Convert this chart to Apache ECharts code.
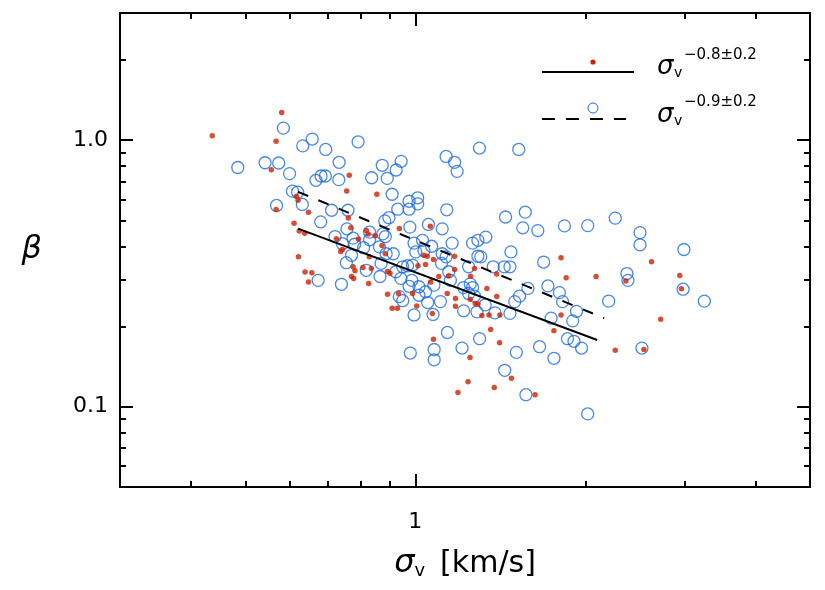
<!DOCTYPE html>
<html>
<head>
<meta charset="utf-8">
<script src="https://cdn.jsdelivr.net/npm/echarts@6/dist/echarts.min.js"></script>
<style>
html, body { margin: 0; padding: 0; background: #fff; }
#chart { width: 825px; height: 590px; }
</style>
</head>
<body>
<div id="chart"></div>
<script>
// 散点数据 (sigma_v, beta)
var redPoints = [
    [0.58, 1.27], [0.437, 1.04], [0.567, 0.99], [0.556, 0.775], [0.616, 0.616], [0.62, 0.595],
    [0.567, 0.55], [0.764, 0.738], [0.756, 0.645], [0.855, 0.627], [0.647, 0.537], [0.61, 0.488],
    [0.623, 0.456], [0.637, 0.448], [0.621, 0.365], [0.638, 0.32],
    [0.761, 0.511], [0.769, 0.469], [0.819, 0.458], [0.825, 0.445], [0.849, 0.438], [0.937, 0.466],
    [1.063, 0.475], [0.725, 0.427], [0.793, 0.426], [0.873, 0.403], [0.743, 0.389], [0.738, 0.382],
    [0.885, 0.375], [0.829, 0.365], [1.036, 0.37], [1.05, 0.367], [1.077, 0.357], [1.043, 0.342],
    [1.011, 0.338], [0.776, 0.335], [0.782, 0.324], [0.808, 0.333], [0.836, 0.33], [0.893, 0.322],
    [0.902, 0.317], [0.771, 0.308], [0.778, 0.303], [0.656, 0.318], [0.647, 0.294], [0.827, 0.29],
    [1.065, 0.294], [0.893, 0.264], [0.934, 0.266], [0.989, 0.266], [1.006, 0.239], [0.91, 0.234],
    [0.93, 0.234], [1.072, 0.224],
    [1.174, 0.367], [1.812, 0.362], [1.273, 0.33], [1.394, 0.315], [1.101, 0.308], [1.146, 0.31],
    [1.174, 0.327], [1.253, 0.309], [1.339, 0.278], [1.139, 0.266], [1.394, 0.259], [1.178, 0.255],
    [1.251, 0.253], [1.277, 0.244], [1.291, 0.243], [1.178, 0.238], [1.351, 0.221], [1.412, 0.221],
    [1.812, 0.221], [1.312, 0.22],
    [1.077, 0.179], [1.19, 0.113], [1.24, 0.124], [1.38, 0.118], [1.63, 0.111], [1.25, 0.153],
    [1.41, 0.174], [1.36, 0.195], [1.48, 0.128], [1.76, 0.193], [2.26, 0.163], [2.54, 0.164],
    [2.72, 0.213], [2.96, 0.277], [2.94, 0.311], [2.09, 0.308], [1.85, 0.305], [2.62, 0.35], [2.36, 0.296]
];

var bluePoints = [
    [0.584, 1.11], [0.632, 0.952], [0.485, 0.79], [0.542, 0.823], [0.573, 0.821], [0.599, 0.749],
    [0.606, 0.644], [0.619, 0.638], [0.631, 0.574], [0.568, 0.569],
    [0.657, 1.01], [0.694, 0.923], [0.792, 0.986], [0.733, 0.826], [0.874, 0.805], [0.944, 0.833],
    [0.925, 0.773], [0.681, 0.734], [0.693, 0.734], [0.667, 0.707], [0.732, 0.711], [0.837, 0.723],
    [0.892, 0.719], [0.91, 0.627], [0.975, 0.59], [1.01, 0.608], [1.01, 0.577], [0.931, 0.551],
    [0.975, 0.551], [0.711, 0.546], [0.76, 0.546],
    [1.299, 0.934], [1.525, 0.923], [1.134, 0.869], [1.174, 0.826], [1.186, 0.764], [1.137, 0.548],
    [1.445, 0.515], [1.566, 0.537],
    [0.68, 0.494], [0.883, 0.498], [0.898, 0.512], [0.978, 0.472], [1.055, 0.483], [0.757, 0.465],
    [0.83, 0.452], [0.876, 0.445], [0.885, 0.435], [0.721, 0.435], [0.776, 0.429], [0.83, 0.423],
    [1.03, 0.421], [0.995, 0.411], [0.743, 0.409], [0.781, 0.407], [0.81, 0.395], [0.864, 0.398],
    [1.069, 0.4], [1.002, 0.381], [0.914, 0.375], [0.888, 0.375], [1.036, 0.385], [0.771, 0.37],
    [0.755, 0.347], [0.87, 0.345], [0.819, 0.325], [0.95, 0.335], [0.969, 0.338], [0.989, 0.34],
    [0.924, 0.321], [0.673, 0.298], [0.866, 0.308], [0.943, 0.303], [0.986, 0.298], [0.74, 0.288],
    [1.015, 0.282], [0.975, 0.283], [1.043, 0.27], [1.079, 0.286], [0.937, 0.259], [0.95, 0.25],
    [1.015, 0.262], [1.052, 0.246], [0.995, 0.221], [1.075, 0.222],
    [1.116, 0.465], [1.162, 0.411], [1.263, 0.411], [1.291, 0.421], [1.333, 0.433], [1.55, 0.469],
    [1.648, 0.458], [1.837, 0.477], [1.116, 0.375], [1.134, 0.365], [1.291, 0.367], [1.306, 0.365],
    [1.477, 0.381], [1.113, 0.345], [1.146, 0.321], [1.243, 0.335], [1.374, 0.335], [1.437, 0.335],
    [1.471, 0.335], [1.688, 0.349], [1.154, 0.298], [1.218, 0.28], [1.251, 0.289], [1.263, 0.28],
    [1.243, 0.266], [1.273, 0.26], [1.583, 0.278], [1.717, 0.284], [1.8, 0.268], [1.53, 0.26],
    [1.5, 0.248], [1.33, 0.241], [1.108, 0.248], [1.286, 0.227], [1.218, 0.229], [1.384, 0.225],
    [1.471, 0.224], [1.823, 0.248], [1.74, 0.215],
    [2.26, 0.51], [2.5, 0.45], [2.99, 0.389], [2.37, 0.316], [2.38, 0.298], [2.2, 0.249],
    [3.25, 0.249], [2.98, 0.276], [2.5, 0.405], [2.02, 0.478], [1.93, 0.228], [1.9, 0.21],
    [0.98, 0.159], [1.08, 0.15], [1.14, 0.19], [1.21, 0.166], [1.3, 0.18], [1.51, 0.16],
    [1.66, 0.168], [1.57, 0.111], [1.86, 0.18], [1.91, 0.176], [1.97, 0.166], [2.52, 0.166],
    [2.02, 0.094], [1.76, 0.152], [1.08, 0.164], [1.44, 0.137]
];

// 拟合线
var fitSolid = [[0.62, 0.466], [2.10, 0.178]];
var fitDashed = [[0.62, 0.64], [2.16, 0.215]];

// 刻度
var xRange = [0.3, 5];
var yRange = [0.05, 3];
var xMajorTicks = [1];
var xMinorTicks = [0.4, 0.5, 0.6, 0.7, 0.8, 0.9, 2, 3, 4];
var yMajorTicks = [0.1, 1];
var yMinorTicks = [0.06, 0.07, 0.08, 0.09, 0.2, 0.3, 0.4, 0.5, 0.6, 0.7, 0.8, 0.9, 2];

var legendTexts = ['−0.8±0.2', '−0.9±0.2'];

var font = 'DejaVu Sans';
var redColor = '#cc2200';
var blueColor = '#1a6ae6';

function makeAxis(position, range, ticks, len, labels, fmt) {
    return {
        type: 'log',
        logBase: 10,
        min: range[0],
        max: range[1],
        position: position,
        axisLine: { show: true, onZero: false, lineStyle: { color: '#000', width: 2 } },
        axisTick: { show: true, inside: true, length: len, customValues: ticks, lineStyle: { color: '#000', width: 2 } },
        axisLabel: {
            show: !!labels,
            customValues: labels || [],
            formatter: fmt,
            color: '#000',
            fontFamily: font,
            fontSize: 22,
            margin: 14
        },
        splitLine: { show: false },
        minorTick: { show: false },
        minorSplitLine: { show: false }
    };
}

var xAxes = [
    makeAxis('bottom', xRange, xMajorTicks, 13, xMajorTicks, function (v) { return String(v); }),
    makeAxis('bottom', xRange, xMinorTicks, 6),
    makeAxis('top', xRange, xMajorTicks, 13),
    makeAxis('top', xRange, xMinorTicks, 6)
];
xAxes[0].axisLabel.margin = 24;
xAxes[0].name = '{s|σ}{v|v}{u|[km/s]}';
xAxes[0].nameLocation = 'middle';
xAxes[0].nameGap = 61;
xAxes[0].nameTextStyle = {
    color: '#000',
    rich: {
        s: { fontFamily: font, fontStyle: 'italic', fontSize: 32, lineHeight: 32 },
        v: { fontFamily: font, fontSize: 18, lineHeight: 18, verticalAlign: 'bottom' },
        u: { fontFamily: font, fontSize: 30, lineHeight: 32, padding: [0, 0, 0, 15] }
    }
};

var yAxes = [
    makeAxis('left', yRange, yMajorTicks, 13, yMajorTicks, function (v) { return v.toFixed(1); }),
    makeAxis('left', yRange, yMinorTicks, 6),
    makeAxis('right', yRange, yMajorTicks, 13),
    makeAxis('right', yRange, yMinorTicks, 6)
];
yAxes[0].axisLabel.margin = 12;
yAxes[0].name = 'β';
yAxes[0].nameLocation = 'middle';
yAxes[0].nameRotate = 0;
yAxes[0].nameGap = 78;
yAxes[0].nameTextStyle = { color: '#000', fontFamily: font, fontStyle: 'italic', fontSize: 32 };

var myChart = echarts.init(document.getElementById('chart'));

var option = {
    animation: false,
    backgroundColor: '#fff',
    grid: { left: 120, right: 15, top: 13, bottom: 103 },
    xAxis: xAxes,
    yAxis: yAxes,
    series: [
        {
            name: 'blue',
            type: 'scatter',
            symbol: 'circle',
            symbolSize: 12,
            itemStyle: { color: 'rgba(0,0,0,0)', borderColor: blueColor, borderWidth: 1.3 },
            data: bluePoints
        },
        {
            name: 'red',
            type: 'scatter',
            symbol: 'circle',
            symbolSize: 5.5,
            itemStyle: { color: redColor },
            data: redPoints
        },
        {
            type: 'line',
            data: fitSolid,
            symbol: 'none',
            silent: true,
            lineStyle: { color: '#000', width: 2 }
        },
        {
            type: 'line',
            data: fitDashed,
            symbol: 'none',
            silent: true,
            lineStyle: { color: '#000', width: 2, type: [11, 11] }
        }
    ],
    graphic: [
        // 图例
        { type: 'line', shape: { x1: 542, y1: 72, x2: 634, y2: 72 }, style: { stroke: '#000', lineWidth: 2 } },
        { type: 'circle', shape: { cx: 593, cy: 62, r: 2.6 }, style: { fill: redColor } },
        { type: 'text', x: 657, y: 67, style: { text: 'σ', font: 'italic 26px DejaVu Sans', fill: '#000', verticalAlign: 'middle' } },
        { type: 'text', x: 674, y: 73, style: { text: 'v', font: '14px DejaVu Sans', fill: '#000', verticalAlign: 'middle' } },
        { type: 'text', x: 684, y: 55, style: { text: legendTexts[0], font: '15px DejaVu Sans', fill: '#000', verticalAlign: 'middle' } },

        { type: 'line', shape: { x1: 542, y1: 119, x2: 626, y2: 119 }, style: { stroke: '#000', lineWidth: 2, lineDash: [13, 11] } },
        { type: 'circle', shape: { cx: 593, cy: 108, r: 5 }, style: { fill: 'none', stroke: blueColor, lineWidth: 1 } },
        { type: 'text', x: 657, y: 115, style: { text: 'σ', font: 'italic 26px DejaVu Sans', fill: '#000', verticalAlign: 'middle' } },
        { type: 'text', x: 674, y: 121, style: { text: 'v', font: '14px DejaVu Sans', fill: '#000', verticalAlign: 'middle' } },
        { type: 'text', x: 684, y: 102, style: { text: legendTexts[1], font: '15px DejaVu Sans', fill: '#000', verticalAlign: 'middle' } }
    ]
};

myChart.setOption(option);
</script>
</body>
</html>
